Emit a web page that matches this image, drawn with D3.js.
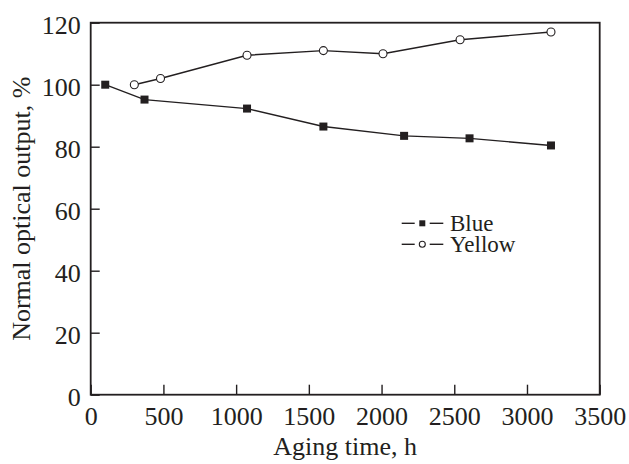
<!DOCTYPE html>
<html>
<head>
<meta charset="utf-8">
<script src="https://cdn.jsdelivr.net/npm/d3@7"></script>
<style>
  body { margin: 0; background: #fff; }
  svg text { font-family: "Liberation Serif", "Times New Roman", serif; fill: #231f20; }
</style>
</head>
<body>
<script>
// data
var blueHours  = [100, 370, 1075, 1600, 2155, 2605, 3165];
var blueValues = [100, 95.2, 92.3, 86.5, 83.5, 82.7, 80.4];
var yellowHours  = [300, 480, 1075, 1600, 2010, 2540, 3165];
var yellowValues = [100, 102, 109.5, 111, 110, 114.5, 117];
var xTicks = [0, 500, 1000, 1500, 2000, 2500, 3000, 3500];
var yTicks = [0, 20, 40, 60, 80, 100, 120];
var seriesNames = ["Blue", "Yellow"];

var margin = {top: 22.7, right: 29.3, bottom: 69.3, left: 90.7},
    width = 629 - margin.left - margin.right,
    height = 464 - margin.top - margin.bottom;

var ink = "#231f20";

var svg = d3.select("body").append("svg")
    .attr("width", 629)
    .attr("height", 464)
  .append("g")
    .attr("transform", "translate(" + margin.left + "," + margin.top + ")");

var x = d3.scaleLinear().domain([0, 3500]).range([0, width]);
var y = d3.scaleLinear().domain([0, 120]).range([height, 0]);

// inward ticks
var xAxis = svg.append("g")
    .attr("transform", "translate(0," + height + ")")
    .call(d3.axisBottom(x).tickValues(xTicks).tickSize(-10).tickPadding(12).tickFormat(d3.format("d")));
var yAxis = svg.append("g")
    .call(d3.axisLeft(y).tickValues(yTicks).tickSize(-9).tickPadding(10).tickFormat(d3.format("d")));

[xAxis, yAxis].forEach(function(a){
    a.select(".domain").remove();
    a.selectAll("line").attr("stroke", ink).attr("stroke-width", 1.4);
    a.selectAll("text").style("font-size", "26px").attr("fill", ink);
});
yAxis.selectAll("text").attr("dy", "0.40em");
xAxis.selectAll("text").attr("dy", "0.72em");

// frame
svg.append("rect")
    .attr("width", width)
    .attr("height", height)
    .attr("fill", "none")
    .attr("stroke", ink)
    .attr("stroke-width", 1.8);

var series = [
    {name: seriesNames[0], pts: d3.zip(blueHours, blueValues), shape: "square"},
    {name: seriesNames[1], pts: d3.zip(yellowHours, yellowValues), shape: "circle"}
];

var line = d3.line()
    .x(function(d){ return x(d[0]); })
    .y(function(d){ return y(d[1]); });

function drawMarker(g, shape, cx, cy, s) {
    if (shape === "square") {
        g.append("rect")
            .attr("x", cx - s / 2).attr("y", cy - s / 2)
            .attr("width", s).attr("height", s)
            .attr("fill", ink);
    } else {
        g.append("circle")
            .attr("cx", cx).attr("cy", cy).attr("r", s / 2)
            .attr("fill", "#fff").attr("stroke", ink).attr("stroke-width", 1.1);
    }
}

series.forEach(function(s){
    svg.append("path")
        .datum(s.pts)
        .attr("d", line)
        .attr("fill", "none")
        .attr("stroke", ink)
        .attr("stroke-width", 1.4);
    var g = svg.append("g");
    s.pts.forEach(function(p){
        drawMarker(g, s.shape, x(p[0]), y(p[1]), 8);
    });
});

// legend
var legend = svg.append("g").attr("transform", "translate(" + (401.7 - margin.left) + "," + (223.3 - margin.top) + ")");
series.forEach(function(s, i){
    var row = legend.append("g").attr("transform", "translate(0," + i * 21 + ")");
    row.append("line").attr("x1", 0).attr("x2", 13).attr("stroke", ink).attr("stroke-width", 1.4);
    row.append("line").attr("x1", 28).attr("x2", 41.6).attr("stroke", ink).attr("stroke-width", 1.4);
    drawMarker(row, s.shape, 20.6, 0, 6);
    row.append("text")
        .attr("x", 48.3)
        .attr("dy", "0.33em")
        .style("font-size", "23px")
        .text(s.name);
});

// axis titles
svg.append("text")
    .attr("x", width / 2)
    .attr("y", height + 60)
    .attr("text-anchor", "middle")
    .style("font-size", "26px")
    .text("Aging time, h");

svg.append("text")
    .attr("transform", "rotate(-90)")
    .attr("x", -height / 2)
    .attr("y", -margin.left + 30)
    .attr("text-anchor", "middle")
    .style("font-size", "26px")
    .text("Normal optical output, %");
</script>
</body>
</html>
